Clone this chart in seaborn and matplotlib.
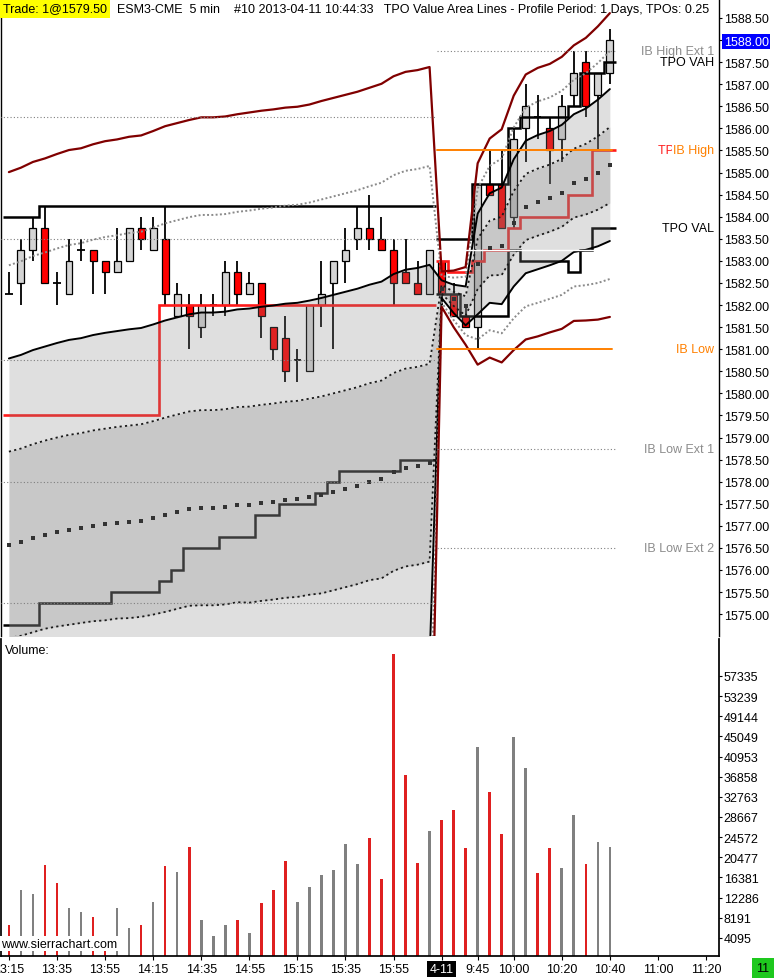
import numpy as np
import pandas as pd
import matplotlib
matplotlib.use('Agg')
import matplotlib.pyplot as plt
import matplotlib.transforms as mtrans
import seaborn as sns

# ESM3 5 min bars: 13:15 .. 16:10 on 4-10, then 9:30 .. 10:40 on 4-11
opens = [1582.25, 1582.5, 1583.25, 1583.75, 1582.5, 1582.25, 1583.25, 1583.25, 1583.0, 1582.75,
         1583.0, 1583.75, 1583.25, 1583.5, 1581.75, 1582.0, 1581.5, 1582.0, 1582.0, 1582.75,
         1582.25, 1582.5, 1581.5, 1581.25, 1580.75, 1580.5, 1582.0, 1582.5, 1583.0, 1583.5,
         1583.75, 1583.5, 1583.25, 1582.75, 1582.5, 1582.25,
         1583.0, 1582.25, 1581.75, 1581.5, 1584.75, 1584.75, 1584.0, 1586.0, 1586.25, 1586.0,
         1585.75, 1586.75, 1587.5, 1586.75, 1587.25]
highs = [1582.75, 1583.5, 1584.0, 1584.25, 1582.75, 1583.5, 1583.5, 1583.25, 1583.0, 1583.75,
         1583.75, 1584.0, 1584.0, 1584.25, 1582.5, 1582.25, 1582.25, 1582.25, 1583.0, 1583.0,
         1582.75, 1582.5, 1581.5, 1581.75, 1581.0, 1582.0, 1583.0, 1583.0, 1583.75, 1584.25,
         1584.5, 1584.0, 1583.5, 1583.5, 1583.0, 1583.25,
         1583.0, 1582.5, 1582.0, 1584.75, 1585.5, 1585.5, 1586.0, 1587.0, 1586.75, 1586.25,
         1586.75, 1587.75, 1587.75, 1587.25, 1588.25]
lows = [1582.25, 1582.0, 1583.0, 1582.5, 1582.0, 1582.25, 1583.0, 1582.25, 1582.25, 1582.75,
        1583.0, 1583.25, 1583.25, 1582.0, 1581.75, 1581.0, 1581.25, 1581.75, 1581.75, 1582.0,
        1582.25, 1581.25, 1580.75, 1580.25, 1580.25, 1580.5, 1581.5, 1581.0, 1582.5, 1583.25,
        1583.25, 1583.25, 1582.0, 1582.5, 1582.25, 1582.25,
        1582.0, 1581.75, 1581.5, 1581.0, 1584.5, 1583.75, 1583.75, 1585.25, 1585.75, 1584.75,
        1585.25, 1586.5, 1586.25, 1585.5, 1587.0]
closes = [1582.25, 1583.25, 1583.75, 1582.5, 1582.5, 1583.0, 1583.25, 1583.0, 1582.75, 1583.0,
          1583.75, 1583.5, 1583.75, 1582.25, 1582.25, 1581.75, 1582.0, 1582.0, 1582.75, 1582.25,
          1582.5, 1581.75, 1581.0, 1580.5, 1580.75, 1582.0, 1582.25, 1583.0, 1583.25, 1583.75,
          1583.5, 1583.25, 1582.5, 1582.5, 1582.25, 1583.25,
          1582.25, 1581.75, 1581.5, 1584.75, 1584.5, 1583.75, 1585.75, 1586.5, 1586.25, 1585.5,
          1586.5, 1587.25, 1586.5, 1587.25, 1588.0]
volume = [6669, 13780, 12968, 18860, 15203, 10123, 9310, 8294, 4163, 10123,
          6059, 6669, 11342, 18657, 17438, 22518, 7685, 4434, 6669, 7685,
          5043, 11139, 13780, 19673, 11342, 14390, 16828, 17844, 23127, 19063,
          24346, 16015, 61734, 37147, 19266, 25768,
          28004, 30036, 22314, 42837, 33693, 25159, 44867, 38569, 17235, 22314,
          18251, 29020, 19063, 23533, 22518]
vol_down = [0, 3, 4, 7, 8, 11, 13, 15, 19, 21, 22, 23, 30, 31, 32, 33, 34,
            36, 37, 38, 40, 41, 44, 45, 48]

# session VWAP and its standard deviation
vwap = [1576.57, 1576.63, 1576.72, 1576.80, 1576.86, 1576.91, 1576.95, 1577.00, 1577.03, 1577.07,
        1577.09, 1577.12, 1577.18, 1577.25, 1577.32, 1577.39, 1577.41, 1577.41, 1577.43, 1577.48,
        1577.48, 1577.52, 1577.55, 1577.59, 1577.61, 1577.66, 1577.70, 1577.77, 1577.84, 1577.91,
        1578.00, 1578.05, 1578.22, 1578.32, 1578.36, 1578.43,
        1582.36, 1582.14, 1581.98, 1582.93, 1583.29, 1583.34, 1583.86, 1584.22, 1584.33, 1584.42,
        1584.54, 1584.76, 1584.85, 1584.99, 1585.17]
vwap_sd = [2.11, 2.12, 2.13, 2.13, 2.14, 2.15, 2.15, 2.16, 2.17, 2.17, 2.18, 2.18, 2.19, 2.20,
           2.20, 2.20, 2.21, 2.21, 2.21, 2.21, 2.22, 2.22, 2.22, 2.22, 2.22, 2.22, 2.23, 2.23,
           2.23, 2.23, 2.23, 2.24, 2.24, 2.24, 2.24, 2.24,
           0.10, 0.16, 0.22, 0.57, 0.62, 0.66, 0.72, 0.75, 0.76, 0.76, 0.77, 0.78, 0.80, 0.83, 0.86]

# TPO value area lines
tpo_vah = [1584.0] * 3 + [1584.25] * 33 + \
          [1583.5] * 3 + [1584.75] * 3 + [1586.0] + [1586.25] * 4 + [1586.5] + [1587.25] * 2 + [1587.5]
tpo_val = [1574.75] * 3 + [1575.25] * 6 + [1575.5] * 4 + [1575.75] + [1576.0] + [1576.5] * 3 + \
          [1576.75] * 3 + [1577.25] * 2 + [1577.5] * 3 + [1577.75] + [1578.0] + [1578.25] * 5 + [1578.5] * 3 + \
          [1582.25] * 2 + [1581.75] * 4 + [1583.25] + [1583.0] * 4 + [1582.75] + [1583.25] + [1583.75] * 2
tpo_poc = [1579.5] * 13 + [1582.0] * 23 + \
          [1583.0] + [1582.75] * 2 + [1583.0] + [1583.25] * 2 + [1583.75] + [1584.0] * 4 + [1584.5] * 2 + [1585.5] * 2
new_day = 36

ib_high, ib_low = 1585.5, 1581.0
ib_ext_names = ['IB High Ext 1', 'IB Low Ext 1', 'IB Low Ext 2']
ib_ext_levels = [1587.75, 1578.75, 1576.5]
prev_levels = [1586.25, 1583.5, 1580.75, 1578.0, 1575.25]
white_level = 1583.25

price_ticks = [1575.0 + 0.5 * k for k in range(28)]
vol_ticks = [4095, 8191, 12286, 16381, 20477, 24572, 28667, 32763, 36858, 40953, 45049, 49144, 53239, 57335]
time_pos = [0, 4, 8, 12, 16, 20, 24, 28, 32, 36, 39, 42, 46, 50, 54, 58]
time_labels = ['13:15', '13:35', '13:55', '14:15', '14:35', '14:55', '15:15', '15:35', '15:55',
               '4-11', '9:45', '10:00', '10:20', '10:40', '11:00', '11:20']
last_price = '1588.00'

sns.set_theme(style='white', rc={'axes.edgecolor': 'black', 'xtick.color': 'black',
                                 'ytick.color': 'black', 'text.color': 'black'})
plt.rcParams['font.family'] = ['Liberation Sans', 'DejaVu Sans']

W, H = 775, 979
fig = plt.figure(figsize=(W / 100, H / 100), dpi=100)
ax = fig.add_axes([1 / W, (H - 637) / H, 718 / W, 637 / H])
axv = fig.add_axes([1 / W, (H - 957) / H, 718 / W, (957 - 640) / H])

idx = np.arange(len(opens))
o, h, l, c = map(np.array, (opens, highs, lows, closes))
vw, sd = np.array(vwap), np.array(vwap_sd)

# candles
up, dn, dj = c > o, c < o, c == o
ax.vlines(idx, l, h, color='black', lw=1.3, zorder=2)
ax.bar(idx[up], (c - o)[up], bottom=o[up], width=0.58, color='#d4d4d4',
       edgecolor='black', lw=0.9, zorder=2.2)
ax.bar(idx[dn], (o - c)[dn], bottom=c[dn], width=0.58, color='#ff0000',
       edgecolor='black', lw=0.9, zorder=2.2)
ax.hlines(c[dj], idx[dj] - 0.3, idx[dj] + 0.3, color='black', lw=1.3, zorder=2.2)

# TPO lines, one per session
for a, b in [(0, new_day), (new_day, len(idx))]:
    edges = np.r_[idx[a:b] - 0.5, idx[b - 1] + 0.5]
    ax.stairs(tpo_vah[a:b], edges, baseline=None, color='black', lw=1.8, zorder=3)
    ax.stairs(tpo_val[a:b], edges, baseline=None, color='black', lw=1.8, zorder=3)
    ax.stairs(tpo_poc[a:b], edges, baseline=None, color='#ff1a1a', lw=1.9, zorder=3)

# VWAP band fills (drawn over candles)
ax.fill_between(idx, vw - 2 * sd, vw + 2 * sd, color='#858585', alpha=0.255, lw=0, zorder=4)
ax.fill_between(idx, vw - sd, vw + sd, color='#858585', alpha=0.255, lw=0, zorder=4)

band_style = {1: dict(color='#1a1a1a', lw=1.3, linestyle=(0, (1.2, 1.8))),
              2: dict(color='black', lw=1.4, linestyle='-'),
              3: dict(color='#8a8a8a', lw=1.4, linestyle=(0, (1, 1.2))),
              4: dict(color='#800000', lw=1.6, linestyle='-')}
for k, st in band_style.items():
    for sgn in (1, -1):
        sns.lineplot(x=idx, y=vw + sgn * k * sd, ax=ax, zorder=5, **st)
sns.scatterplot(x=idx, y=vw, ax=ax, marker='s', s=9, color='#333333', linewidth=0, zorder=6)

# horizontal reference levels
for lv in prev_levels:
    ax.plot([-0.7, 35.5], [lv, lv], color='#808080', lw=0.8, linestyle=(0, (1, 2)), zorder=6)
for lv in ib_ext_levels:
    ax.plot([35.6, 50.5], [lv, lv], color='#808080', lw=0.8, linestyle=(0, (1, 2)), zorder=6)
ax.plot([35.6, 50.5], [white_level, white_level], color='white', lw=1, zorder=5.5)
for lv in (ib_high, ib_low):
    ax.plot([35.6, 50.2], [lv, lv], color='#ff8000', lw=1.4, zorder=6)

tr = mtrans.blended_transform_factory(ax.transAxes, ax.transData)
lx = 0.993
for name, lv in zip(ib_ext_names, ib_ext_levels):
    ax.text(lx, lv, name, transform=tr, ha='right', va='center', fontsize=9, color='#8c8c8c', zorder=7)
ax.text(lx, tpo_vah[-1], 'TPO VAH', transform=tr, ha='right', va='center', fontsize=9, zorder=7)
ax.text(lx, tpo_val[-1], 'TPO VAL', transform=tr, ha='right', va='center', fontsize=9, zorder=7)
ax.text(lx, tpo_poc[-1], 'TPO POC', transform=tr, ha='right', va='center', fontsize=9,
        color='#ff2020', zorder=7)
ax.text(lx, ib_high, 'IB High', transform=tr, ha='right', va='center', fontsize=9, color='#ff8000',
        zorder=8, bbox=dict(facecolor='white', edgecolor='none', pad=0.6))
ax.text(lx, ib_low, 'IB Low', transform=tr, ha='right', va='center', fontsize=9, color='#ff8000', zorder=7)

ax.set_xlim(-0.657, 59.08)
ax.set_ylim(1574.505, 1588.93)
ax.yaxis.tick_right()
ax.set_yticks(price_ticks, [f'{p:.2f}' for p in price_ticks])
ax.tick_params(axis='y', right=True, length=2.5, width=0.8, pad=0.8, labelsize=9)
ax.set_xticks([])
for sp in ('top', 'bottom'):
    ax.spines[sp].set_visible(False)
for sp in ('left', 'right'):
    ax.spines[sp].set_linewidth(1)
for lbl in ax.get_yticklabels():
    if lbl.get_text() == last_price:
        lbl.set_color('white')
        lbl.set_bbox(dict(facecolor='#0000ff', edgecolor='none', pad=1.2))

# volume panel
vdf = pd.DataFrame({'bar': idx, 'volume': volume,
                    'side': ['down' if i in vol_down else 'up' for i in idx]})
sns.barplot(data=vdf, x='bar', y='volume', hue='side', palette={'down': '#ff0000', 'up': '#808080'},
            native_scale=True, width=0.22, dodge=False, legend=False, errorbar=None,
            linewidth=0, ax=axv, zorder=2)
axv.set_xlim(-0.657, 59.08)
axv.set_ylim(400, 64850)
axv.set_xlabel('')
axv.set_ylabel('')
axv.yaxis.tick_right()
axv.set_yticks(vol_ticks, [str(v) for v in vol_ticks])
axv.tick_params(axis='y', right=True, length=2.5, width=0.8, pad=0.8, labelsize=9)
axv.set_xticks(time_pos, time_labels)
axv.tick_params(axis='x', bottom=True, length=3, width=0.8, pad=2, labelsize=9)
axv.spines['top'].set_visible(False)
for lbl in axv.get_xticklabels():
    if lbl.get_text() == '4-11':
        lbl.set_color('white')
        lbl.set_bbox(dict(facecolor='black', edgecolor='none', pad=1.5))
axv.text(0.006, 0.985, 'Volume:', transform=axv.transAxes, ha='left', va='top', fontsize=9)
axv.text(0.0, 0.02, 'www.sierrachart.com', transform=axv.transAxes, ha='left', va='bottom', fontsize=9,
         bbox=dict(facecolor='white', edgecolor='none', pad=1), zorder=5)

# header
fig.text(3 / W, 1 - 9.5 / H, 'Trade: 1@1579.50', ha='left', va='center', fontsize=9,
         bbox=dict(facecolor='#ffff00', edgecolor='none', pad=2.2))
fig.text(117 / W, 1 - 9.5 / H,
         'ESM3-CME  5 min    #10 2013-04-11 10:44:33   TPO Value Area Lines - Profile Period: 1 Days, TPOs: 0.25',
         ha='left', va='center', fontsize=9)
fig.text(763 / W, 1 - 969 / H, '11', ha='center', va='center', fontsize=9,
         bbox=dict(facecolor='#1ec81e', edgecolor='none', pad=3))

fig.savefig('out.png', dpi=100)
